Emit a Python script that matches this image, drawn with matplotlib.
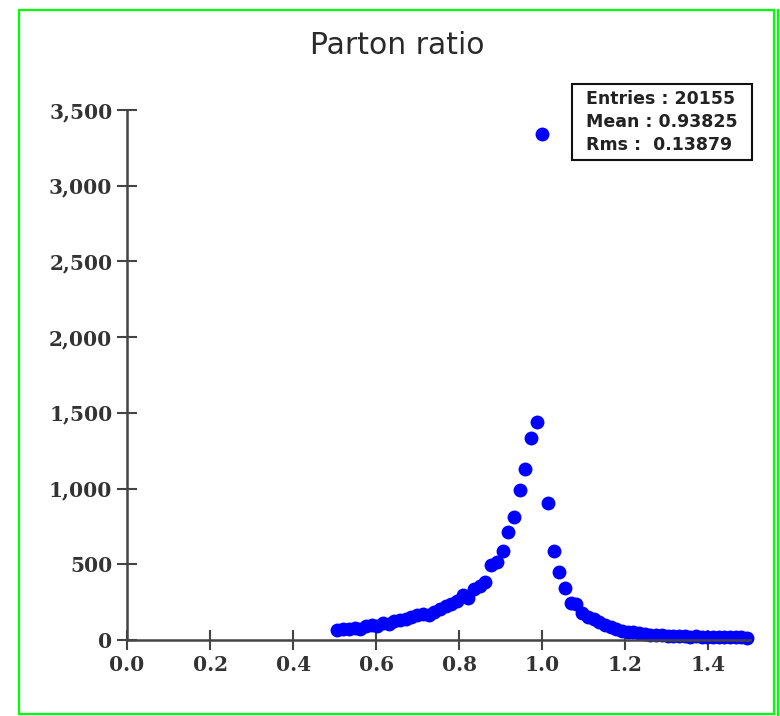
import numpy as np
import matplotlib
matplotlib.use('Agg')
import matplotlib.pyplot as plt
from matplotlib.patches import Rectangle
from matplotlib.lines import Line2D
from matplotlib.ticker import FuncFormatter

# bin offsets around the spike at 1.0 (bin width ~0.0137)
bin_index = np.arange(-36, 37)
bin_width = 0.0137

# counts, left tail -> spike -> right tail
counts_left = [66, 72, 75, 80, 70, 90, 98, 95, 110, 105, 125, 130,
               140, 150, 165, 175, 168, 185, 205, 225, 240, 260, 300, 280,
               335, 355, 385, 495, 517, 590, 715, 814, 990, 1130, 1332, 1442]
count_spike = [3340]
counts_right = [903, 588, 451, 341, 242, 235, 180, 155, 140, 120, 100, 88,
                75, 62, 55, 50, 45, 40, 36, 33, 30, 28, 27, 25,
                24, 22, 24, 20, 21, 19, 20, 18, 19, 17, 18, 16]

yticks = [0, 500, 1000, 1500, 2000, 2500, 3000, 3500]
xticks = [0.0, 0.2, 0.4, 0.6, 0.8, 1.0, 1.2, 1.4]
stats = ["Entries : 20155", "Mean : 0.93825", "Rms :  0.13879"]

x = 1.0 + bin_index * bin_width
y = counts_left + count_spike + counts_right

fig = plt.figure(figsize=(7.8, 7.16), dpi=100)
ax = fig.add_axes([127 / 780, 1 - 640 / 716, (750 - 127) / 780, (640 - 110) / 716])

ax.plot(x, y, 'o', color='#0000ff', markersize=10, markeredgewidth=0, clip_on=False)

ax.set_xlim(0, 1.5)
ax.set_ylim(0, 3500)
ax.set_xticks(xticks)
ax.set_yticks(yticks)
ax.yaxis.set_major_formatter(FuncFormatter(lambda v, p: f"{int(v):,}"))
ax.xaxis.set_major_formatter(FuncFormatter(lambda v, p: f"{v:.1f}"))

for s in ['top', 'right']:
    ax.spines[s].set_visible(False)
for s in ['left', 'bottom']:
    ax.spines[s].set_color('#444444')
    ax.spines[s].set_linewidth(1.8)

ax.tick_params(direction='inout', length=15, width=1.5, color='#444444',
               labelcolor='#333333', pad=3)
for lab in ax.get_xticklabels() + ax.get_yticklabels():
    lab.set_fontfamily('DejaVu Serif')
    lab.set_fontweight('bold')
    lab.set_fontsize(14.5)

fig.text(397 / 780, 1 - 46 / 716, "Parton ratio", ha='center', va='center',
         fontsize=21.5, color='#2a2a2a')

# stats box
fig.patches.append(Rectangle((572 / 780, 1 - 160 / 716), 180 / 780, 76 / 716,
                             transform=fig.transFigure, fill=False,
                             edgecolor='#111111', linewidth=1.5))
for i, t in enumerate(stats):
    fig.text(586 / 780, 1 - (99 + 23 * i) / 716, t, ha='left', va='center',
             fontsize=12.5, fontweight='bold', color='#222222')

# green frame
fig.patches.append(Rectangle((19 / 780, 1 - 714 / 716), 755 / 780, 704 / 716,
                             transform=fig.transFigure, fill=False,
                             edgecolor='#00ff00', linewidth=1.6))
fig.lines.append(Line2D([778 / 780, 778 / 780], [0, 1 - 10 / 716],
                        transform=fig.transFigure, color='#00ff00', linewidth=1.6))

fig.savefig('out.png', dpi=100)
